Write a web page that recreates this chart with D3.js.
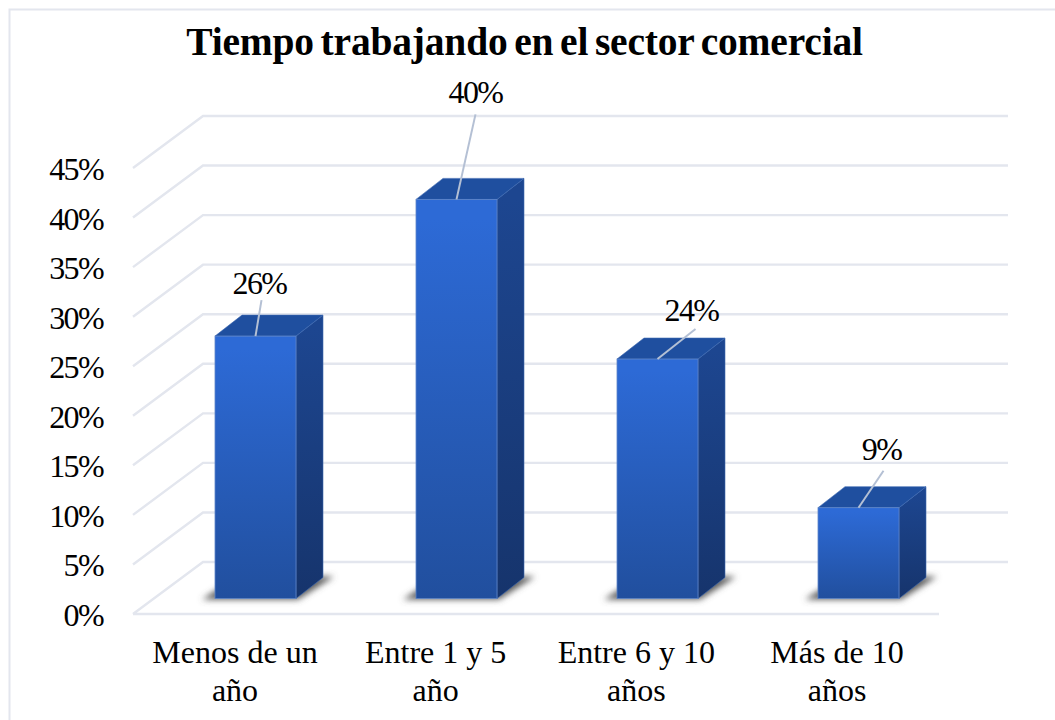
<!DOCTYPE html>
<html>
<head>
<meta charset="utf-8">
<script src="https://cdn.jsdelivr.net/npm/d3@7"></script>
<style>
html, body { margin: 0; padding: 0; background: #fff; }
svg { display: block; }
text { font-family: "Liberation Serif", serif; fill: #000; }
</style>
</head>
<body>
<div id="chart"></div>
<script>
var title = 'Tiempo trabajando en el sector comercial';
var categories = ['Menos de un año', 'Entre 1 y 5 año', 'Entre 6 y 10 años', 'Más de 10 años'];
var categoryLines = [['Menos de un', 'año'], ['Entre 1 y 5', 'año'], ['Entre 6 y 10', 'años'], ['Más de 10', 'años']];
var values = [26.3, 40, 24, 9.1];
var yTicks = [0, 5, 10, 15, 20, 25, 30, 35, 40, 45];
// where the leader line of each label ends, relative to the bar top
var leaderShift = [[6, -36], [19, -85], [38, -30], [25, -37]];
// label position relative to the end of its leader line
var labelShift = [[-2, -6], [0, -11], [-4, -8], [-2, -11]];

var width = 1055,
    height = 720,
    depthX = 27,
    depthY = 21,
    wallX = 70,
    wallY = 52;

var svg = d3.select('#chart').append('svg')
    .attr('width', width)
    .attr('height', height);

var defs = svg.append('defs');

function gradient(id, top, bottom) {
    var g = defs.append('linearGradient').attr('id', id)
        .attr('x1', 0).attr('y1', 0).attr('x2', 0).attr('y2', 1);
    g.append('stop').attr('offset', '5%').attr('stop-color', top);
    g.append('stop').attr('offset', '100%').attr('stop-color', bottom);
}
gradient('front', '#2d6ad6', '#214f9e');
gradient('side', '#1d4690', '#16346c');
defs.append('filter').attr('id', 'blur')
    .attr('x', '-20%').attr('y', '-50%').attr('width', '140%').attr('height', '200%')
    .append('feGaussianBlur').attr('stdDeviation', 3.2);

// outer frame, runs off the right and bottom of the picture
svg.append('rect')
    .attr('x', 9.5).attr('y', 9.5)
    .attr('width', 1100).attr('height', 760)
    .attr('fill', '#fff')
    .attr('stroke', '#e3e6ee')
    .attr('stroke-width', 2);

svg.append('text')
    .attr('x', 524.5).attr('y', 55)
    .attr('text-anchor', 'middle')
    .style('font-size', '39.5px')
    .style('font-weight', 'bold')
    .style('letter-spacing', '-0.18px')
    .style('word-spacing', '-3px')
    .text(title);

// y for the front edge of the floor
var yFront = d3.scaleLinear().domain([0, 45]).range([614, 168]);
// y for the front face of the bars
var yBar = d3.scaleLinear().domain([0, 45]).range([598.5, 149.5]);
var x = d3.scaleBand().domain(categories).range([155, 959])
    .paddingInner(0.597).paddingOuter(0.2985);
// labels of the axis sit left of the bars
var xLabel = d3.scalePoint().domain(categories).range([235, 837]);

// walls
var grid = svg.append('g');
grid.selectAll('path')
    .data(yTicks)
    .enter()
    .append('path')
    .attr('d', function (d) {
        var y0 = yFront(d);
        if (d === 0) {
            return 'M133,' + y0 + ' L939,' + y0 + ' M133,' + y0 + ' L' + (133 + wallX) + ',' + (y0 - wallY) + ' L1008,' + (y0 - wallY);
        }
        return 'M133,' + y0 + ' L' + (133 + wallX) + ',' + (y0 - wallY) + ' L1008,' + (y0 - wallY);
    })
    .attr('fill', 'none')
    .attr('stroke', '#e3e6ee')
    .attr('stroke-width', 2.4);

// y tick labels
svg.append('g').selectAll('text')
    .data(yTicks)
    .enter()
    .append('text')
    .attr('x', 103)
    .attr('y', function (d) { return yFront(d) + 12; })
    .attr('text-anchor', 'end')
    .style('font-size', '32px')
    .style('letter-spacing', '-1.6px')
    .text(function (d) { return d + '%'; });

// shadows on the floor
svg.append('g').selectAll('polygon')
    .data(categories)
    .enter()
    .append('polygon')
    .attr('points', function (d) {
        var l = x(d), r = l + x.bandwidth(), b = yBar(0);
        return [[l - 13, b + 1], [l + 4, b - 10], [r + depthX, b - depthY - 1], [r + depthX + 11, b - depthY - 1], [r + 2, b + 1]].join(' ');
    })
    .attr('fill', '#5a5a5a')
    .attr('filter', 'url(#blur)');

// bars
var bars = svg.append('g').selectAll('g')
    .data(categories)
    .enter()
    .append('g');

bars.append('polygon')
    .attr('points', function (d, i) {
        var r = x(d) + x.bandwidth(), t = yBar(values[i]), b = yBar(0);
        return [[r, t], [r + depthX, t - depthY], [r + depthX, b - depthY], [r, b]].join(' ');
    })
    .attr('fill', 'url(#side)')
    .attr('stroke', '#3c68b0')
    .attr('stroke-width', 0.6);

bars.append('polygon')
    .attr('points', function (d, i) {
        var l = x(d), r = l + x.bandwidth(), t = yBar(values[i]);
        return [[l, t], [l + depthX, t - depthY], [r + depthX, t - depthY], [r, t]].join(' ');
    })
    .attr('fill', '#1f4f9f')
    .attr('stroke', '#3c68b0')
    .attr('stroke-width', 0.6);

bars.append('rect')
    .attr('x', function (d) { return x(d); })
    .attr('y', function (d, i) { return yBar(values[i]); })
    .attr('width', x.bandwidth())
    .attr('height', function (d, i) { return yBar(0) - yBar(values[i]); })
    .attr('fill', 'url(#front)')
    .attr('stroke', '#5f86c8')
    .attr('stroke-width', 0.8);

// leader lines
svg.append('g').selectAll('line')
    .data(categories)
    .enter()
    .append('line')
    .attr('x1', function (d) { return x(d) + x.bandwidth() / 2; })
    .attr('y1', function (d, i) { return yBar(values[i]); })
    .attr('x2', function (d, i) { return x(d) + x.bandwidth() / 2 + leaderShift[i][0]; })
    .attr('y2', function (d, i) { return yBar(values[i]) + leaderShift[i][1]; })
    .attr('stroke', '#b4c0d4')
    .attr('stroke-width', 2);

// value labels
svg.append('g').selectAll('text')
    .data(categories)
    .enter()
    .append('text')
    .attr('x', function (d, i) { return x(d) + x.bandwidth() / 2 + leaderShift[i][0] + labelShift[i][0]; })
    .attr('y', function (d, i) { return yBar(values[i]) + leaderShift[i][1] + labelShift[i][1]; })
    .attr('text-anchor', 'middle')
    .style('font-size', '32px')
    .style('letter-spacing', '-1.6px')
    .text(function (d, i) { return d3.format('.0f')(values[i]) + '%'; });

// category labels
var catLabels = svg.append('g').selectAll('text')
    .data(categories)
    .enter()
    .append('text')
    .attr('text-anchor', 'middle')
    .style('font-size', '32px');

catLabels.selectAll('tspan')
    .data(function (d, i) {
        return categoryLines[i].map(function (line) { return {cat: d, line: line}; });
    })
    .enter()
    .append('tspan')
    .attr('x', function (d) { return xLabel(d.cat); })
    .attr('y', function (d, i) { return 663 + i * 37.5; })
    .text(function (d) { return d.line; });
</script>
</body>
</html>
